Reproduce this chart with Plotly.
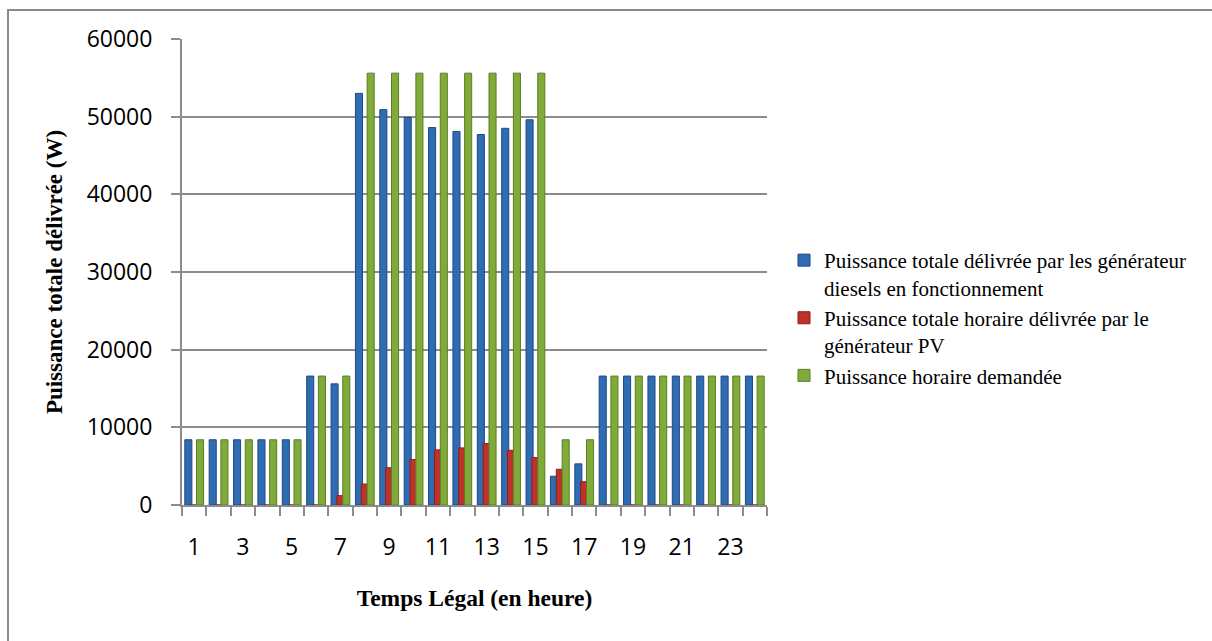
import plotly.graph_objects as go

# Hourly values (W)
hours = list(range(1, 25))
diesel = [8400, 8400, 8400, 8400, 8400, 16600, 15600, 53000, 50900, 49900, 48600, 48100,
          47700, 48500, 49600, 3700, 5300, 16600, 16600, 16600, 16600, 16600, 16600, 16600]
pv = [0, 0, 0, 0, 0, 0, 1200, 2700, 4800, 5850, 7100, 7350,
      7900, 7050, 6100, 4600, 3000, 0, 0, 0, 0, 0, 0, 0]
demand = [8400, 8400, 8400, 8400, 8400, 16600, 16600, 55600, 55600, 55600, 55600, 55600,
          55600, 55600, 55600, 8400, 8400, 16600, 16600, 16600, 16600, 16600, 16600, 16600]
tick_hours = list(range(1, 24, 2))
y_ticks = [0, 10000, 20000, 30000, 40000, 50000, 60000]

names = [
    "Puissance totale délivrée par les générateur<br>diesels en fonctionnement",
    "Puissance totale horaire délivrée par le<br>générateur PV",
    "Puissance horaire demandée",
]
fills = ["#2f6cb3", "#c0312c", "#80ab3a"]
edges = ["#1d4a80", "#8a1f1c", "#5a7e22"]

SERIF = "Liberation Serif, Times New Roman, serif"
SANS = "Open Sans, sans-serif"

bar_w = 0.29
offsets = [-0.385, -0.145, 0.095]

fig = go.Figure()
for i, (vals, name, fc, ec, off) in enumerate(zip([diesel, pv, demand], names, fills, edges, offsets)):
    fig.add_trace(go.Bar(
        x=hours, y=vals, name=name, width=bar_w, offset=off,
        legendgroup=f"g{i}",
        marker=dict(color=fc, line=dict(color=ec, width=1)),
    ))

L, R, T, B = 182, 445, 39, 136
W, H = 1212, 641
pw, ph = W - L - R, H - T - B

def px_x(p):
    return (p - L) / pw

def px_y(p):
    return (H - B - p) / ph

fig.update_layout(
    width=W, height=H,
    margin=dict(l=L, r=R, t=T, b=B),
    paper_bgcolor="white", plot_bgcolor="white",
    font=dict(family=SERIF, color="#000"),
    barmode="overlay",
    showlegend=True,
    legend=dict(
        x=px_x(784), y=px_y(240), xanchor="left", yanchor="top",
        font=dict(family=SERIF, size=21, color="#000"),
        valign="top", itemwidth=30, tracegroupgap=4,
        traceorder="normal",
        bgcolor="rgba(0,0,0,0)",
    ),
    xaxis=dict(
        range=[0.5, 24.5],
        tickvals=tick_hours, ticktext=[str(h) for h in tick_hours],
        ticks="", showgrid=False,
        showline=True, linecolor="#8c8c8c", linewidth=2,
        tickfont=dict(family=SANS, size=23, color="#000"),
        ticklabelstandoff=20,
        minor=dict(tick0=0.5, dtick=1, ticks="outside", ticklen=9,
                   tickcolor="#8c8c8c", tickwidth=2, showgrid=False),
        title=dict(text="<b>Temps Légal (en heure)</b>",
                   font=dict(family=SERIF, size=23.5, color="#000"),
                   standoff=29),
        zeroline=False,
    ),
    yaxis=dict(
        range=[0, 60000],
        tickvals=y_ticks, ticktext=[str(v) for v in y_ticks],
        ticks="outside", ticklen=9, tickcolor="#8c8c8c", tickwidth=2,
        showgrid=True, gridcolor="#8c8c8c", gridwidth=2,
        showline=True, linecolor="#8c8c8c", linewidth=2,
        zeroline=False,
        tickfont=dict(family=SANS, size=23, color="#000"),
        ticklabelstandoff=14,
        title=dict(text="<b>Puissance totale délivrée (W)</b>",
                   font=dict(family=SERIF, size=23, color="#000"),
                   standoff=18),
    ),
    shapes=[dict(
        type="rect", xref="paper", yref="paper",
        x0=px_x(8), x1=px_x(1240), y0=px_y(680), y1=px_y(10),
        line=dict(color="#8a8a8a", width=2), fillcolor="rgba(0,0,0,0)",
        layer="below",
    )],
)

fig.write_html("out.html")
